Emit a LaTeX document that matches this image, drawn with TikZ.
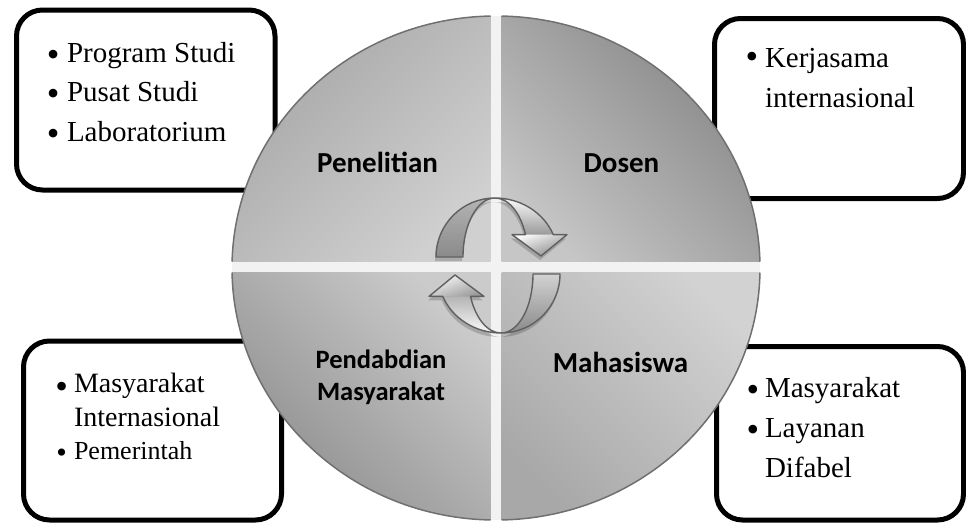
\documentclass[tikz,border=0pt]{standalone}
\usepackage{fontspec}
\setmainfont{Liberation Serif}
\newfontfamily\lblfont{Carlito}
\definecolor{qTLa}{HTML}{A6A6A6}
\definecolor{qTLb}{HTML}{D0D0D0}
\definecolor{qTRa}{HTML}{848484}
\definecolor{qTRb}{HTML}{C6C6C6}
\definecolor{qBLa}{HTML}{CBCBCB}
\definecolor{qBLb}{HTML}{8C8C8C}
\definecolor{qBRa}{HTML}{D2D2D2}
\definecolor{qBRb}{HTML}{A8A8A8}
\definecolor{gapgray}{HTML}{F2F2F2}
\definecolor{edgegray}{HTML}{707070}
\definecolor{arredge}{HTML}{606060}
\definecolor{arrdark}{HTML}{8A8A8A}
\definecolor{arrmid}{HTML}{B4B4B4}
\definecolor{arrlight}{HTML}{FAFAFA}
\def\arrLC{(436,257) arc[start angle=180, end angle=270, radius=59] arc[start angle=270, end angle=180, x radius=32, y radius=59] -- cycle}
\def\arrRC{(495,198) arc[start angle=270, end angle=337.7, x radius=63, y radius=59] -- (525.5,234.6) arc[start angle=337.7, end angle=270, x radius=33, y radius=59] -- cycle}
\def\arrHead{(512,234.6) -- (567,234.6) -- (541,256) -- cycle}
\def\arrOut{(495,198) arc[start angle=270, end angle=337.7, x radius=63, y radius=59] -- (567,234.6) -- (541,256) -- (512,234.6) -- (525.5,234.6) arc[start angle=337.7, end angle=270, x radius=33, y radius=59] -- cycle}
\begin{document}
\begin{tikzpicture}[x=1pt,y=-1pt,
  every node/.style={inner sep=0pt,outer sep=0pt},
  boxline/.style={line width=5pt, rounded corners=26pt, draw=black, fill=white},
  itemtxt/.style={anchor=base west, font=\fontsize{29}{35}\selectfont},
  itemsmall/.style={anchor=base west, font=\fontsize{26}{32}\selectfont},
  bul/.style={anchor=base, font=\fontsize{36}{40}\selectfont},
  bulsmall/.style={anchor=base, font=\fontsize{30}{34}\selectfont},
  qlabel/.style={anchor=base, font=\lblfont\bfseries\fontsize{29}{35}\selectfont},
  qlabelsm/.style={anchor=base, font=\lblfont\bfseries\fontsize{26.5}{32}\selectfont},
  arrline/.style={draw=arredge, line width=1.4pt, line join=round},
  arrshadow/.style={fill=black, opacity=0.18}]
\useasboundingbox (0,0) rectangle (966,525);
% boxes
\draw[boxline] (16.5,10) rectangle (275,190);
\draw[boxline] (714.5,18.5) rectangle (963.5,198.5);
\draw[boxline] (23.5,341) rectangle (281.5,520);
\draw[boxline] (716.5,346.5) rectangle (963.5,520);
% box texts
\node[bul] (b1) at (53.3,66.7) {•};
\node[itemtxt] (t1) at (67,62) {Program Studi};
\node[bul] (b2) at (53.3,105.7) {•};
\node[itemtxt] (t2) at (67,101.5) {Pusat Studi};
\node[bul] (b3) at (53.3,145.7) {•};
\node[itemtxt] (t3) at (67,141.5) {Laboratorium};
\node[bul] (b4) at (752,68.3) {•};
\node[itemtxt] (t4) at (765,67) {Kerjasama};
\node[itemtxt] (t5) at (765,107) {internasional};
\node[bul] (b6) at (61.7,398.7) {•};
\node[itemtxt, font=\fontsize{28}{34}\selectfont] (t6) at (74,392) {Masyarakat};
\node[itemtxt, font=\fontsize{28}{34}\selectfont] (t7) at (74,426) {Internasional};
\node[bulsmall] (b8) at (61.7,462.7) {•};
\node[itemsmall] (t8) at (74,459) {Pemerintah};
\node[bul] (b9) at (753,401.8) {•};
\node[itemtxt] (t9) at (765,397) {Masyarakat};
\node[bul] (b10) at (753,441.8) {•};
\node[itemtxt] (t10) at (765,437) {Layanan};
\node[itemtxt] (t11) at (765,477) {Difabel};
% circle
\fill[gapgray] (496,268) ellipse [x radius=264, y radius=252];
\begin{scope}
  \clip (496,268) ellipse [x radius=264, y radius=252];
  \shade[top color=qTLa, bottom color=qTLb, shading angle=45] (231,15) rectangle (490.5,261.5);
  \shade[top color=qTRa, bottom color=qTRb, shading angle=-45] (501.5,15) rectangle (761,261.5);
  \shade[top color=qBLa, bottom color=qBLb, shading angle=-45] (231,272.5) rectangle (490.5,521);
  \shade[top color=qBRa, bottom color=qBRb, shading angle=-45] (501.5,272.5) rectangle (761,521);
\end{scope}
\begin{scope}
  \clip (0,0) rectangle (490.5,261.5) (501.5,0) rectangle (966,261.5)
        (0,272.5) rectangle (490.5,525) (501.5,272.5) rectangle (966,525);
  \draw[edgegray, line width=1.5pt] (496,268) ellipse [x radius=264, y radius=252];
\end{scope}
% labels
\node[qlabel] (pen) at (377.5,172) {Penelitian};
\node[qlabel] (dos) at (621.5,172) {Dosen};
\node[qlabelsm] (pm1) at (381,368) {Pendabdian};
\node[qlabelsm] (pm2) at (381,400) {Masyarakat};
\node[qlabel] (mah) at (620.5,372) {Mahasiswa};
% upper arrow
\begin{scope}
  \begin{scope}[shift={(-1,4)}]
    \fill[arrshadow] \arrLC;
    \fill[arrshadow] \arrOut;
  \end{scope}
  \shade[top color=arrmid, bottom color=arrdark] \arrLC;
  \shade[top color=arrlight, bottom color=arrmid!85!black] \arrRC;
  \shade[top color=arrlight, bottom color=arrdark, shading angle=20] \arrHead;
  \draw[arrline] \arrLC;
  \draw[arrline] \arrOut;
\end{scope}
% lower arrow
\begin{scope}[rotate around={180:(498,265.5)}]
  \begin{scope}[shift={(1,-4)}]
    \fill[arrshadow] \arrLC;
    \fill[arrshadow] \arrOut;
  \end{scope}
  \shade[top color=qBRa, bottom color=arrdark] \arrLC;
  \shade[top color=arrmid, bottom color=arrlight] \arrRC;
  \shade[top color=arrlight, bottom color=arrmid!85!black, shading angle=20] \arrHead;
  \draw[arrline] \arrLC;
  \draw[arrline] \arrOut;
\end{scope}
\end{tikzpicture}
\end{document}
